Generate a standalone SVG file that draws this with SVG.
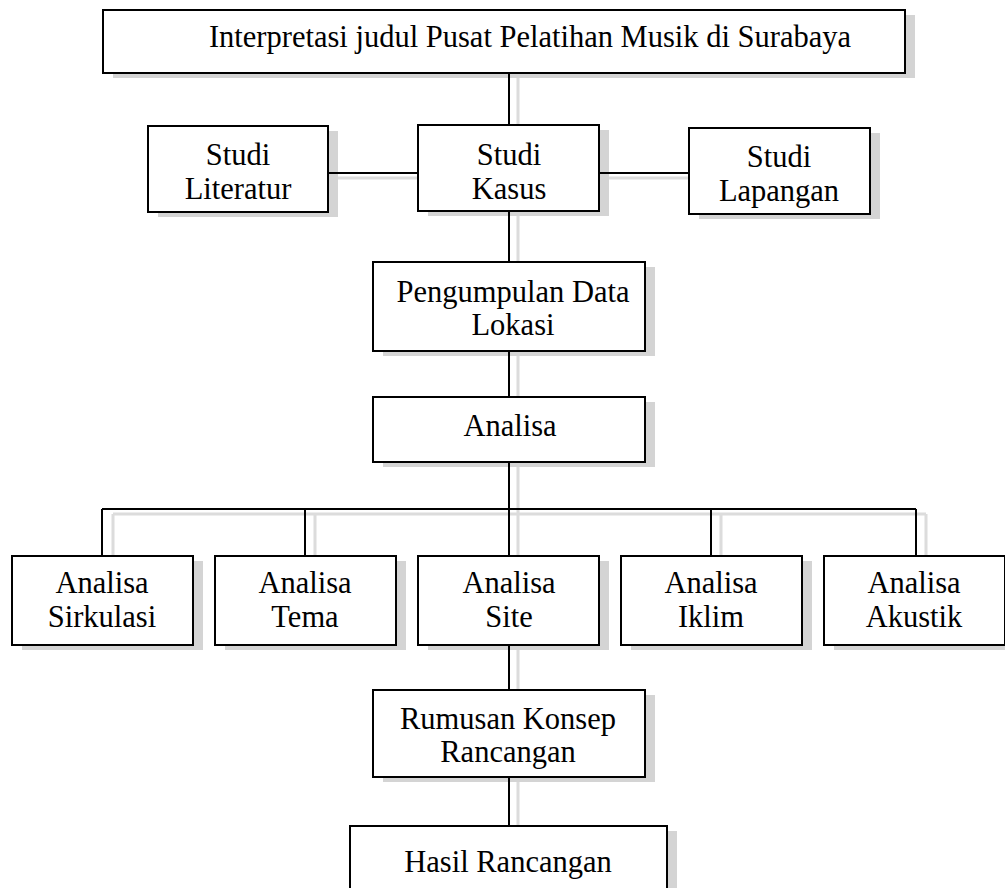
<svg xmlns="http://www.w3.org/2000/svg" width="1005" height="888" viewBox="0 0 1005 888">
<style>
.sh{fill:#d4d4d4;stroke:none}
.bx{fill:#fff;stroke:#000;stroke-width:2}
.ln{stroke:#000;stroke-width:2;fill:none}
.lsh{stroke:#dcdcdc;stroke-width:3;fill:none}
text{font-family:"Liberation Serif","Times New Roman",serif;font-size:30.5px;fill:#000;text-anchor:middle}
</style>
<rect width="1005" height="888" fill="#fff"/>
<g id="connector-shadows">
<path class="lsh" d="M518 78V130M338 178H428M609 178H699M518 216V267M518 356V402M518 467V514M113 514H926M113 514V561M315 514V561M518 514V561M721 514V561M926 514V561M518 650V695M518 782V831"/>
</g>
<g id="node-shadows">
<rect class="sh" x="113" y="15" width="802" height="63"/>
<rect class="sh" x="158" y="131" width="180" height="86"/>
<rect class="sh" x="428" y="130" width="181" height="86"/>
<rect class="sh" x="699" y="133" width="181" height="86"/>
<rect class="sh" x="383" y="267" width="272" height="89"/>
<rect class="sh" x="383" y="402" width="272" height="65"/>
<rect class="sh" x="22" y="561" width="181" height="89"/>
<rect class="sh" x="225" y="561" width="181" height="89"/>
<rect class="sh" x="428" y="561" width="181" height="89"/>
<rect class="sh" x="631" y="561" width="181" height="89"/>
<rect class="sh" x="834" y="561" width="181" height="89"/>
<rect class="sh" x="383" y="695" width="272" height="87"/>
<rect class="sh" x="360" y="831" width="317" height="70"/>
</g>
<g id="connectors">
<path class="ln" d="M509 73V125M328 173H418M599 173H689M509 211V262M509 351V397M509 462V509M102 509H916M102 509V556M305 509V556M509 509V556M711 509V556M916 509V556M509 645V690M509 777V826"/>
</g>
<g id="n-judul"><rect class="bx" x="103" y="10" width="802" height="63"/><text x="530" y="47">Interpretasi judul Pusat Pelatihan Musik di Surabaya</text></g>
<g id="n-literatur"><rect class="bx" x="148" y="126" width="180" height="86"/><text x="238" y="165">Studi</text><text x="238" y="199">Literatur</text></g>
<g id="n-kasus"><rect class="bx" x="418" y="125" width="181" height="86"/><text x="509" y="165">Studi</text><text x="509" y="199">Kasus</text></g>
<g id="n-lapangan"><rect class="bx" x="689" y="128" width="181" height="86"/><text x="779" y="167">Studi</text><text x="779" y="201">Lapangan</text></g>
<g id="n-pengumpulan"><rect class="bx" x="373" y="262" width="272" height="89"/><text x="513" y="302">Pengumpulan Data</text><text x="513" y="335">Lokasi</text></g>
<g id="n-analisa"><rect class="bx" x="373" y="397" width="272" height="65"/><text x="510" y="436">Analisa</text></g>
<g id="n-sirkulasi"><rect class="bx" x="12" y="556" width="181" height="89"/><text x="102" y="593">Analisa</text><text x="102" y="627">Sirkulasi</text></g>
<g id="n-tema"><rect class="bx" x="215" y="556" width="181" height="89"/><text x="305" y="593">Analisa</text><text x="305" y="627">Tema</text></g>
<g id="n-site"><rect class="bx" x="418" y="556" width="181" height="89"/><text x="509" y="593">Analisa</text><text x="509" y="627">Site</text></g>
<g id="n-iklim"><rect class="bx" x="621" y="556" width="181" height="89"/><text x="711" y="593">Analisa</text><text x="711" y="627">Iklim</text></g>
<g id="n-akustik"><rect class="bx" x="824" y="556" width="181" height="89"/><text x="914" y="593">Analisa</text><text x="914" y="627">Akustik</text></g>
<g id="n-rumusan"><rect class="bx" x="373" y="690" width="272" height="87"/><text x="508" y="729">Rumusan Konsep</text><text x="508" y="762">Rancangan</text></g>
<g id="n-hasil"><rect class="bx" x="350" y="826" width="317" height="70"/><text x="508" y="872">Hasil Rancangan</text></g>
</svg>
